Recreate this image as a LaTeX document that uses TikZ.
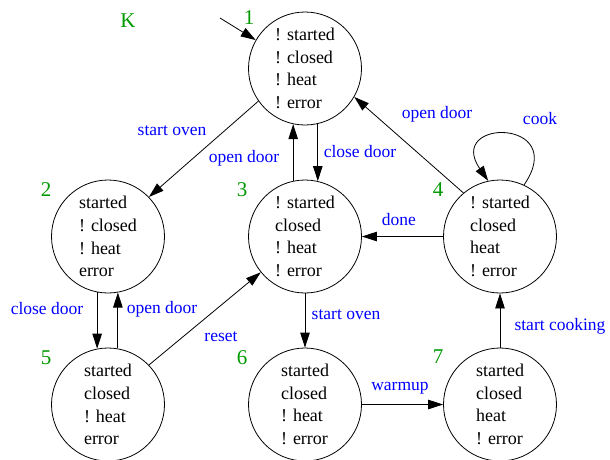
\documentclass[tikz,border=0pt]{standalone}
\usepackage{fontspec}
\setmainfont{Liberation Serif}
\usetikzlibrary{arrows.meta}
\definecolor{lgreen}{rgb}{0,0.6,0}
\begin{document}
\begin{tikzpicture}[x=1pt,y={(0pt,-1pt)},
  state/.style={circle,draw,line width=0.8pt,minimum size=113pt,inner sep=0pt,align=left,font=\fontsize{18}{22.7}\selectfont},
  edge/.style={line width=0.8pt,-{Triangle[length=15pt,width=9.5pt]}},
  elabel/.style={text=blue,font=\fontsize{17.5}{20}\selectfont,inner sep=0pt},
  num/.style={text=lgreen,font=\fontsize{21}{24}\selectfont,inner sep=0pt}]
\useasboundingbox (0,0) rectangle (610,459);
\node[state] (1) at (305,68.5) {! started\\! closed\\! heat\\! error};
\node[state] (2) at (108,236.5) {started\\! closed\\! heat\\error};
\node[state] (3) at (305,236.5) {! started\\closed\\! heat\\! error};
\node[state] (4) at (500,236.5) {! started\\closed\\heat\\! error};
\node[state] (5) at (108,404.5) {started\\closed\\! heat\\error};
\node[state] (6) at (305,404.5) {started\\closed\\! heat\\! error};
\node[state] (7) at (500,404.5) {started\\closed\\heat\\! error};
\node[num] (nK) at (128,21) {K};
\node[num] (n1) at (249,18) {1};
\node[num] (n2) at (46,190) {2};
\node[num] (n3) at (242,190) {3};
\node[num] (n4) at (438,190) {4};
\node[num] (n5) at (46,358) {5};
\node[num] (n6) at (242,358) {6};
\node[num] (n7) at (438,357) {7};
\coordinate (init) at (220,18);
\draw[edge] (init) -- (1.150);
\draw[edge] (1.215) -- (2.44);
\draw[edge] (3.102) -- (1.258);
\draw[edge] (1.283) -- (3.77);
\draw[edge] (4.130) -- (1.-30);
\draw[edge] (4.65) .. controls (570,118) and (445,118) .. (4.102);
\draw[edge] (4) -- (3);
\draw[edge] (2.259) -- (5.101);
\draw[edge] (5.80) -- (2.280);
\draw[edge] (5.44) -- (3.219);
\draw[edge] (3) -- (6);
\draw[edge] (6) -- (7);
\draw[edge] (7) -- (4);
\node[elabel] (l12) at (172,131) {start oven};
\node[elabel] (l31) at (244,158) {open door};
\node[elabel] (l13) at (360,152) {close door};
\node[elabel] (l41) at (437,114) {open door};
\node[elabel] (l44) at (540,119) {cook};
\node[elabel] (l43) at (399,220) {done};
\node[elabel] (l25) at (47,309) {close door};
\node[elabel] (l52) at (162,309) {open door};
\node[elabel] (l53) at (221,337) {reset};
\node[elabel] (l36) at (346,315) {start oven};
\node[elabel] (l74) at (560,326) {start cooking};
\node[elabel] (l67) at (400,388) {warmup};
\end{tikzpicture}
\end{document}
